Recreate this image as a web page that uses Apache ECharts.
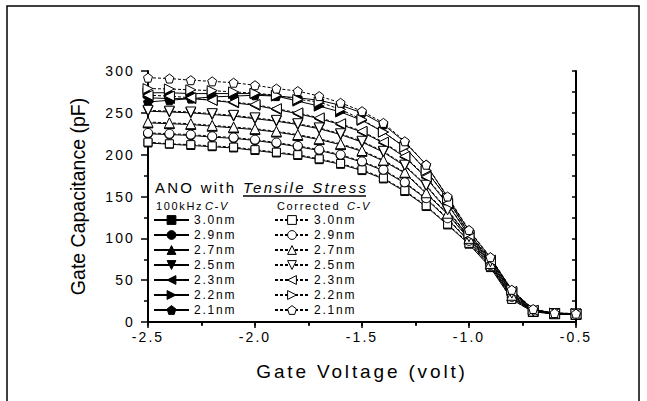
<!DOCTYPE html>
<html><head><meta charset="utf-8">
<script src="https://cdn.jsdelivr.net/npm/echarts@6/dist/echarts.min.js"></script>
<style>
html,body{margin:0;padding:0;background:#fff}
#c{width:647px;height:401px}
#c svg text{letter-spacing:0.15em}
#c svg text[style*="19.5px"]{letter-spacing:0}
</style></head><body><div id="c"></div>
<script>
// Gate voltage (V)
const xs = [-2.5,-2.4,-2.3,-2.2,-2.1,-2.0,-1.9,-1.8,-1.7,-1.6,-1.5,-1.4,-1.3,-1.2,-1.1,-1.0,-0.9,-0.8,-0.7,-0.6,-0.5];
const thickness = ['3.0nm','2.9nm','2.7nm','2.5nm','2.3nm','2.2nm','2.1nm'];
// 100kHz measured C-V (pF)
const m30 = [214,212.5,211,209.5,208,205,202,199,194,188.5,181,171,156,138,116,93,65,27,12,10,9];
const m29 = [225,224,223,221,219.5,217,213.5,209.5,205,199,191,181,166,147,123,96,67,29,12.5,10,9];
const m27 = [238,237,236,234,232,230,227,223,218,212,204,192.5,178,153.5,129,99,69,31,12.5,10,9];
const m25 = [252,251,250,248,246,243,240,236,231,224,215,203,186.5,162.5,133,101,71,33.5,12.5,10,9.5];
const m23 = [268,267,267,265,262,259,254,249,243,236,227,214,197,172.5,141,103,73,35.5,13.5,10,9.5];
const m22 = [274,274,273,273,273,273,270,264,258,251,241,227,209,181,147,105,75,37.5,14,10.5,10];
const m21 = [263,265,267,269,270,271,270,268,265,259,250,236,215,188,149,109,77,38,15,10.5,10];
// Corrected C-V (pF)
const c30 = [215,213,212,210.5,209,206,203,200,195,189.5,182,172,157,139,117,94,66,27,12,10,9];
const c29 = [226,225,224,222,220.5,218,214.5,210.5,206,200,192,182,167,148,124,97,68,30,13,10,9];
const c27 = [239,238,237,235,233,231,228,224,219,213,205,193.5,179,154.5,130,100,70,32,13,10,9];
const c25 = [253,252,251,249,247,244,241,237,232,225,216,204,187.5,163.5,134,102,72,34.5,13,10,9.5];
const c23 = [271,270,268,265,263,260,255,250,244,237,228,215,198,173.5,142,104,74,36.5,14,10,9.5];
const c22 = [279,278.5,277.5,276.5,275,273.5,271,266,263,254,242,227,209,181,148,106,76,38.5,14.5,10.5,10];
const c21 = [292,291,289,287.6,286,283,279,276,270,262,252,238,216,188,150,110,77.5,38.5,15.5,10.7,10];

const measured = [m30,m29,m27,m25,m23,m22,m21];
const corrected = [c30,c29,c27,c25,c23,c22,c21];

const pent = 'path://M0,-10 L9.51,-3.09 L5.88,8.09 L-5.88,8.09 L-9.51,-3.09 Z';
const symbols = [
  {s:'rect', r:0, size:8},
  {s:'circle', r:0, size:9},
  {s:'triangle', r:0, size:10},
  {s:'triangle', r:180, size:10},
  {s:'triangle', r:90, size:10},
  {s:'triangle', r:-90, size:10},
  {s:pent, r:0, size:9}
];
const FONT = 'Liberation Sans';

function pairs(arr){ return xs.map((x,i)=>[x,arr[i]]); }

const series = [];
measured.forEach((arr,k)=>{
  series.push({
    name:'m'+thickness[k], type:'line', data:pairs(arr),
    symbol:symbols[k].s, symbolRotate:symbols[k].r, symbolSize:symbols[k].size,
    lineStyle:{color:'#000', width:1, type:'solid'},
    itemStyle:{color:'#000', borderColor:'#000', borderWidth:1},
    emphasis:{disabled:true}, z:2
  });
});
corrected.forEach((arr,k)=>{
  series.push({
    name:'c'+thickness[k], type:'line', data:pairs(arr),
    symbol:symbols[k].s, symbolRotate:symbols[k].r, symbolSize:symbols[k].size,
    lineStyle:{color:'#000', width:1, type:[3,2]},
    itemStyle:{color:'#fff', borderColor:'#000', borderWidth:1},
    emphasis:{disabled:true}, z:3
  });
});

const legendCommon = {
  orient:'vertical', padding:0, itemHeight:11, itemGap:1, selectedMode:false,
  formatter:(n)=>n.slice(1),
  textStyle:{fontFamily:FONT, fontSize:12, color:'#000', lineHeight:14},
  itemStyle:{borderWidth:1}
};

const chart = echarts.init(document.getElementById('c'), null, {renderer:'svg'});
chart.setOption({
  animation:false,
  backgroundColor:'#fff',
  grid:{left:148, right:71, top:71, bottom:79},
  xAxis:[{
    type:'value', position:'bottom', min:-2.5, max:-0.5, interval:0.5,
    axisLine:{lineStyle:{color:'#000', width:2}},
    axisTick:{inside:false, length:6, lineStyle:{color:'#000', width:1.5}},
    minorTick:{show:true, splitNumber:2, length:3, lineStyle:{color:'#000', width:1.5}},
    splitLine:{show:false},
    axisLabel:{formatter:(v)=>v.toFixed(1), fontFamily:FONT, fontSize:14, color:'#000', margin:8},
    name:'Gate Voltage (volt)', nameLocation:'middle', nameGap:40,
    nameTextStyle:{fontFamily:FONT, fontSize:19, color:'#000'}
  },{
    type:'value', position:'top', min:-2.5, max:-0.5, interval:0.5,
    axisLine:{lineStyle:{color:'#000', width:2}},
    axisTick:{inside:true, length:4, lineStyle:{color:'#000', width:1.5}},
    minorTick:{show:true, splitNumber:2, length:4, lineStyle:{color:'#000', width:1.5}},
    splitLine:{show:false}, axisLabel:{show:false}
  }],
  yAxis:[{
    type:'value', position:'left', min:0, max:300, interval:50,
    axisLine:{lineStyle:{color:'#000', width:2}},
    axisTick:{inside:false, length:7, lineStyle:{color:'#000', width:1.5}},
    minorTick:{show:true, splitNumber:2, length:4, lineStyle:{color:'#000', width:1.5}},
    splitLine:{show:false},
    axisLabel:{fontFamily:FONT, fontSize:14, color:'#000', margin:13},
    name:'Gate Capacitance (pF)', nameLocation:'middle', nameGap:60, nameRotate:90,
    nameTextStyle:{fontFamily:FONT, fontSize:19.5, color:'#000'}
  },{
    type:'value', position:'right', min:0, max:300, interval:50,
    axisLine:{lineStyle:{color:'#000', width:2}},
    axisTick:{inside:true, length:4, lineStyle:{color:'#000', width:1.5}},
    minorTick:{show:true, splitNumber:2, length:4, lineStyle:{color:'#000', width:1.5}},
    splitLine:{show:false}, axisLabel:{show:false}
  }],
  legend:[
    Object.assign({}, legendCommon, {left:153, top:213, itemWidth:35, data:thickness.map(t=>'m'+t)}),
    Object.assign({}, legendCommon, {left:274, top:213, itemWidth:34, data:thickness.map(t=>'c'+t)})
  ],
  graphic:[
    {type:'rect', silent:true, shape:{x:7, y:6, width:632, height:430}, style:{fill:'none', stroke:'#000', lineWidth:1.5}},
    {type:'text', left:155, top:180, style:{text:'ANO with', font:'normal 15px '+FONT, fill:'#000'}},
    {type:'text', left:243, top:180, style:{text:'Tensile Stress', font:'italic 15px '+FONT, fill:'#000'}},
    {type:'line', shape:{x1:243, y1:196, x2:366, y2:196}, style:{stroke:'#000', lineWidth:1.5}},
    {type:'text', left:156, top:200, style:{text:'100kHz', font:'normal 11px '+FONT, fill:'#000'}},
    {type:'text', left:205, top:200, style:{text:'C-V', font:'italic 11px '+FONT, fill:'#000'}},
    {type:'text', left:277, top:200, style:{text:'Corrected', font:'normal 11px '+FONT, fill:'#000'}},
    {type:'text', left:347, top:200, style:{text:'C-V', font:'italic 11px '+FONT, fill:'#000'}}
  ],
  series:series
});
</script></body></html>
